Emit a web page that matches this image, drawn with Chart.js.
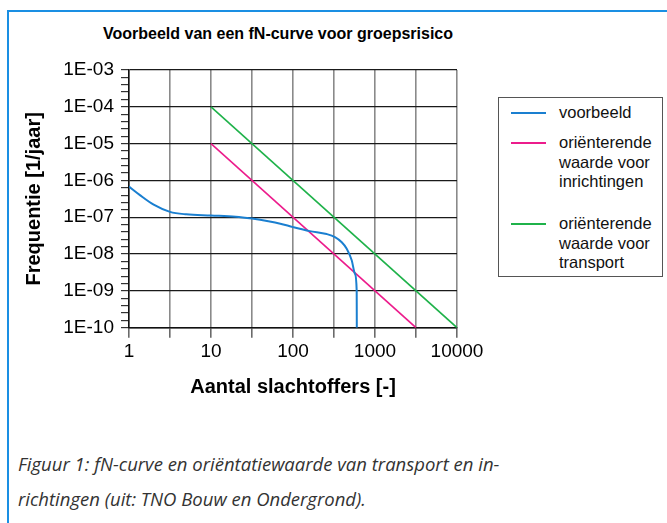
<!DOCTYPE html>
<html>
<head>
<meta charset="utf-8">
<script src="https://cdn.jsdelivr.net/npm/chart.js@4.4.0/dist/chart.umd.min.js"></script>
<style>
    html, body { margin: 0; padding: 0; background: #fff; }
    body { width: 667px; height: 523px; position: relative; overflow: hidden; font-family: "Liberation Sans", Arial, sans-serif; }
    #frame { position: absolute; left: 7px; top: 10px; width: 700px; height: 600px; border-top: 2px solid #1a8fe3; border-left: 2px solid #1a8fe3; }
    #title { position: absolute; left: 78px; width: 400px; top: 23.5px; text-align: center; font-size: 16px; font-weight: bold; line-height: 19px; color: #000; white-space: nowrap; }
    #wrap { position: absolute; left: 8px; top: 12px; width: 540px; height: 395px; }
    #legend { position: absolute; left: 498px; top: 97px; width: 163px; height: 178px; border: 1px solid #555; background: #fff; }
    .item { position: absolute; left: 0; width: 163px; }
    .sample { position: absolute; left: 12px; width: 35px; height: 0; border-top: 2px solid; }
    .text { position: absolute; left: 60px; font-size: 16.5px; line-height: 19.5px; color: #111; white-space: nowrap; }
    #caption { position: absolute; left: 18px; top: 446px; font-family: "Open Sans", sans-serif; font-style: italic; font-size: 18.5px; line-height: 35px; color: #333; white-space: nowrap; }
</style>
</head>
<body>
<div id="frame"></div>
<div id="title">Voorbeeld van een fN-curve voor groepsrisico</div>
<div id="wrap"><canvas id="fnChart" width="540" height="395"></canvas></div>
<div id="legend"></div>
<div id="caption">Figuur 1: fN-curve en oriëntatiewaarde van transport en in-<br>richtingen (uit: TNO Bouw en Ondergrond).</div>
<script>
// voorbeeld fN-curve (aantal slachtoffers, frequentie per jaar)
var nVoorbeeld = [1, 1.36, 2, 3.16, 5, 10, 20, 31.6, 50, 70, 100, 160, 257, 325, 393, 452, 520, 570, 598, 600];
var fVoorbeeld = [6.8e-7, 4.0e-7, 2.2e-7, 1.4e-7, 1.2e-7, 1.12e-7, 1.04e-7, 9.2e-8, 7.8e-8, 6.7e-8, 5.4e-8, 4.2e-8, 3.5e-8, 2.9e-8, 2.1e-8, 1.4e-8, 6.8e-9, 2.9e-9, 1.0e-9, 1.0e-10];

// orienterende waarden
var nInrichtingen = [10, 3162];
var fInrichtingen = [1e-5, 1e-10];
var nTransport = [10, 10000];
var fTransport = [1e-4, 1e-10];

var seriesLabels = [
    ["voorbeeld"],
    ["oriënterende", "waarde voor", "inrichtingen"],
    ["oriënterende", "waarde voor", "transport"]
];
var seriesColors = ["#1a7fd0", "#ec1c8c", "#1fb24a"];

var xLabels = ["1", "10", "100", "1000", "10000"];
var yLabels = ["1E-10", "1E-09", "1E-08", "1E-07", "1E-06", "1E-05", "1E-04", "1E-03"];

function toPoints(xs, ys) {
    var pts = [];
    for (var i = 0; i < xs.length; i++) {
        pts.push({ x: xs[i], y: ys[i] });
    }
    return pts;
}

Chart.defaults.font.family = "'Liberation Sans', Arial, sans-serif";
Chart.defaults.color = "#000";

var fnChart = new Chart(document.getElementById("fnChart"), {
    type: "scatter",
    data: {
        datasets: [{
            label: "voorbeeld",
            data: toPoints(nVoorbeeld, fVoorbeeld),
            borderColor: seriesColors[0],
            borderWidth: 2,
            showLine: true,
            pointRadius: 0,
            cubicInterpolationMode: "monotone"
        }, {
            label: "inrichtingen",
            data: toPoints(nInrichtingen, fInrichtingen),
            borderColor: seriesColors[1],
            borderWidth: 1.6,
            showLine: true,
            pointRadius: 0
        }, {
            label: "transport",
            data: toPoints(nTransport, fTransport),
            borderColor: seriesColors[2],
            borderWidth: 1.6,
            showLine: true,
            pointRadius: 0
        }]
    },
    options: {
        responsive: false,
        animation: false,
        layout: { padding: { left: 0, right: 91, top: 58, bottom: 0 } },
        plugins: {
            legend: { display: false },
            tooltip: { enabled: false }
        },
        scales: {
            x: {
                type: "logarithmic",
                min: 1,
                max: 10000,
                afterBuildTicks: function (scale) {
                    // grid every half decade
                    var t = [];
                    for (var e = 0; e <= 8; e++) {
                        t.push({ value: Math.pow(10, e / 2) });
                    }
                    scale.ticks = t;
                },
                afterFit: function (scale) { scale.height = 79.3; },
                ticks: {
                    autoSkip: false,
                    maxRotation: 0,
                    padding: 3,
                    font: { size: 19 },
                    color: "#000",
                    callback: function (value, index) {
                        return index % 2 === 0 ? xLabels[index / 2] : "";
                    }
                },
                grid: { color: "#8a8a8a", lineWidth: 1.6, tickLength: 10, tickColor: "#6a6a6a" },
                border: { color: "#111", width: 1.5 },
                title: {
                    display: true,
                    text: "Aantal slachtoffers [-]",
                    font: { size: 20, weight: "bold" },
                    color: "#000",
                    padding: { top: 0, bottom: 8 }
                }
            },
            y: {
                type: "logarithmic",
                min: 1e-10,
                max: 1e-3,
                afterBuildTicks: function (scale) {
                    // decades with 4 minor ticks in between
                    var t = [];
                    for (var e = -50; e <= -15; e++) {
                        t.push({ value: Math.pow(10, e / 5) });
                    }
                    scale.ticks = t;
                },
                afterFit: function (scale) { scale.width = 121; },
                ticks: {
                    autoSkip: false,
                    padding: 7,
                    font: { size: 19 },
                    color: "#000",
                    callback: function (value, index) {
                        return index % 5 === 0 ? yLabels[index / 5] : "";
                    }
                },
                grid: {
                    color: function (ctx) {
                        return ctx.index % 5 === 0 ? "#1a1a1a" : "rgba(0,0,0,0)";
                    },
                    lineWidth: 1.2,
                    tickLength: 8,
                    tickColor: "#333"
                },
                border: { color: "#111", width: 1.5 },
                title: {
                    display: true,
                    text: "Frequentie [1/jaar]",
                    font: { size: 20, weight: "bold" },
                    color: "#000",
                    padding: { top: 14, bottom: 0 }
                }
            }
        }
    }
});

// html legend with multi-line labels
var legend = document.getElementById("legend");
var sampleTops = [15, 45, 126];
for (var i = 0; i < seriesLabels.length; i++) {
    var item = document.createElement("div");
    item.className = "item";
    item.style.top = sampleTops[i] + "px";
    var sample = document.createElement("div");
    sample.className = "sample";
    sample.style.borderColor = seriesColors[i];
    sample.style.top = "-1px";
    var text = document.createElement("div");
    text.className = "text";
    text.style.top = "-10px";
    text.innerHTML = seriesLabels[i].join("<br>");
    item.appendChild(sample);
    item.appendChild(text);
    legend.appendChild(item);
}
</script>
</body>
</html>
